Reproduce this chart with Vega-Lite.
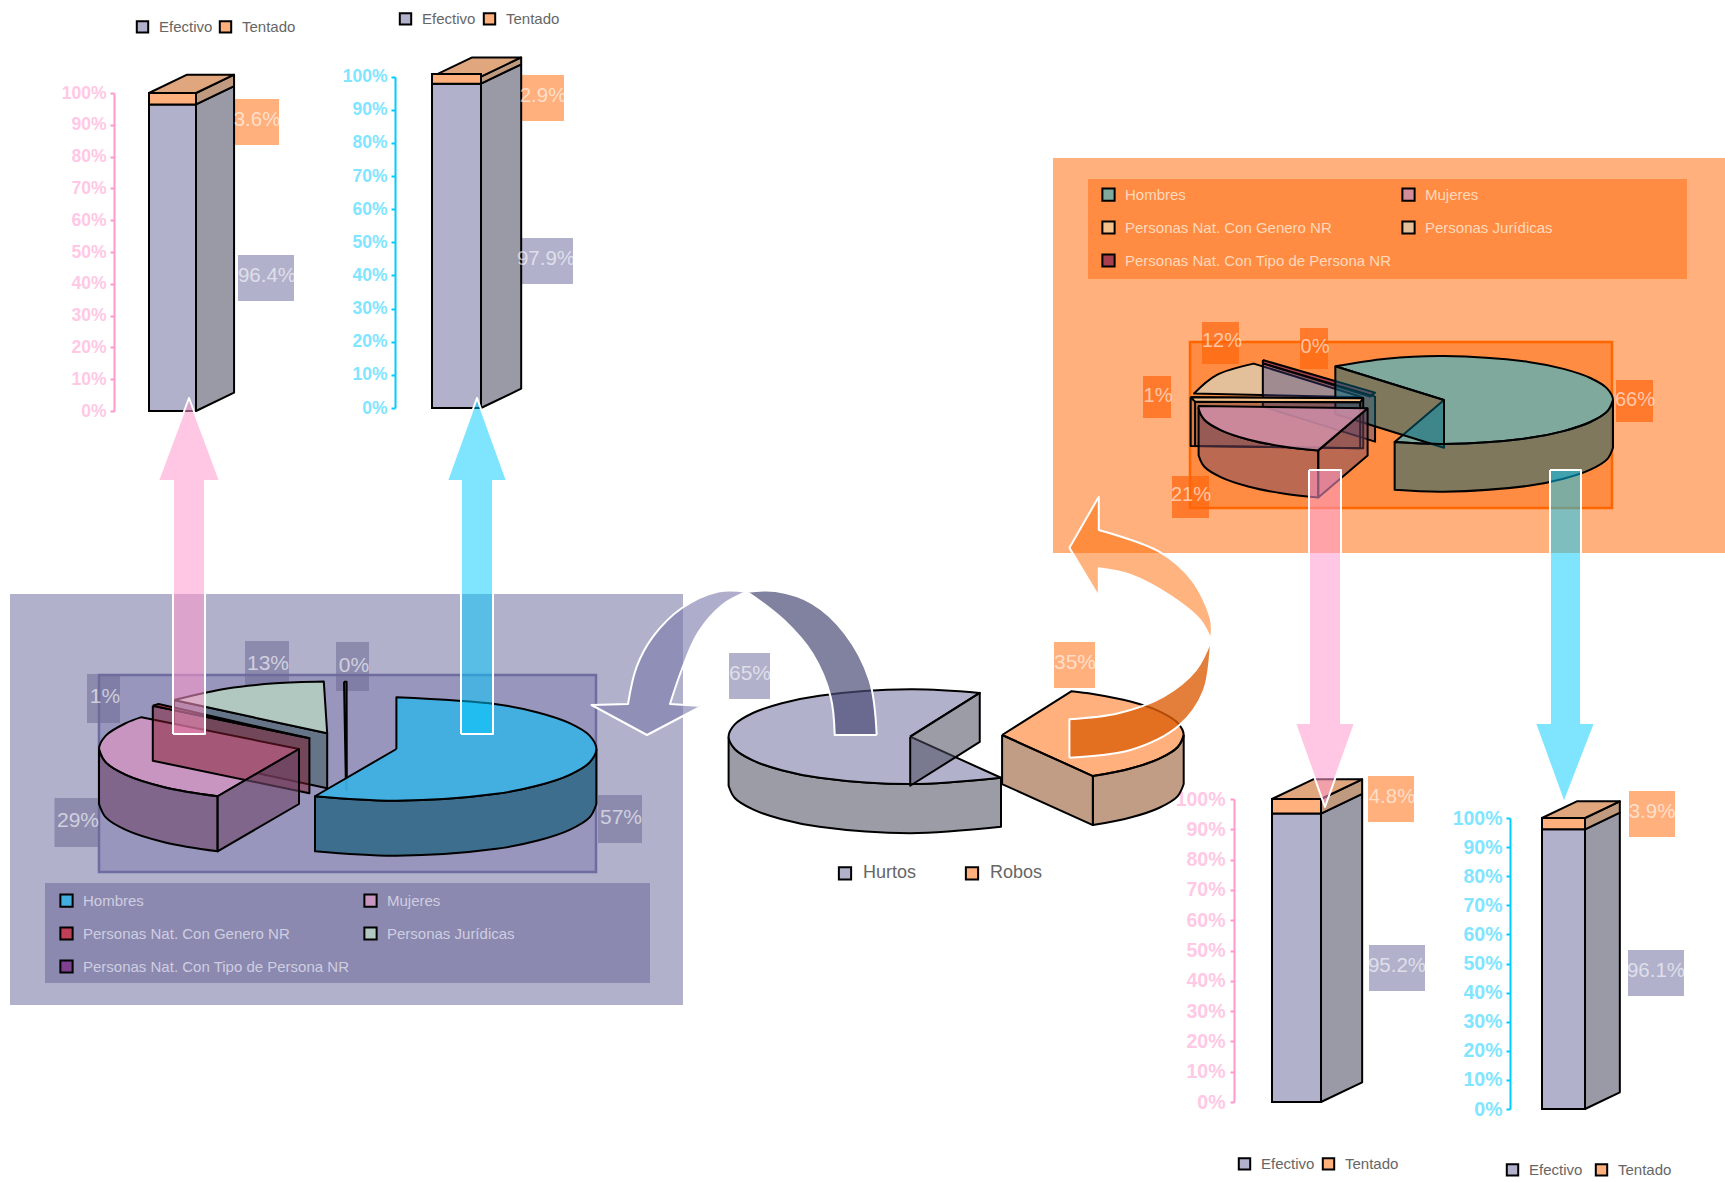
{
"$schema":"https://vega.github.io/schema/vega-lite/v6.json",
"width":1725,"height":1182,"padding":0,"autosize":{"type":"none"},"background":"#ffffff",
"config":{"view":{"stroke":null},"legend":{"labelFont":"Liberation Sans","titleFont":"Liberation Sans"},"axis":{"labelFont":"Liberation Sans"}},
"datasets":{
"fondos":[
{"caja":"panelA","x":10,"x2":683,"y":594,"y2":1005},
{"caja":"panelC","x":1053,"x2":1725,"y":158,"y2":553}],
"areas":[
{"caja":"areaA","x":99,"x2":596,"y":675,"y2":872},
{"caja":"areaC","x":1190,"x2":1612,"y":342,"y2":508}],
"cajas":[
{"caja":"leyendaA","x":45,"x2":650,"y":883,"y2":983},
{"caja":"leyendaC","x":1088,"x2":1687,"y":179,"y2":279},
{"caja":"etqA","x":87,"x2":120,"y":674,"y2":723},
{"caja":"etqA","x":598,"x2":642,"y":795,"y2":843},
{"caja":"etqA","x":54.5,"x2":99,"y":798,"y2":847},
{"caja":"etqA","x":245,"x2":289,"y":641,"y2":690},
{"caja":"etqA","x":336,"x2":369,"y":642,"y2":691},
{"caja":"etqC","x":1616,"x2":1653,"y":380,"y2":422},
{"caja":"etqC","x":1143,"x2":1171,"y":376,"y2":418},
{"caja":"etqC","x":1202,"x2":1239,"y":322,"y2":364},
{"caja":"etqC","x":1300,"x2":1328,"y":328,"y2":369},
{"caja":"etqC","x":1172,"x2":1209,"y":476,"y2":518},
{"caja":"etqE","x":729,"x2":770,"y":653,"y2":699},
{"caja":"etqT","x":1054,"x2":1095,"y":642,"y2":688},
{"caja":"etqT","x":233,"x2":279,"y":99,"y2":145},
{"caja":"etqE","x":238,"x2":294,"y":255,"y2":301},
{"caja":"etqT","x":518,"x2":564,"y":75,"y2":121},
{"caja":"etqE","x":517,"x2":573,"y":238,"y2":284},
{"caja":"etqT","x":1368,"x2":1414,"y":776,"y2":822},
{"caja":"etqE","x":1369,"x2":1425,"y":945,"y2":991},
{"caja":"etqT","x":1629,"x2":1675,"y":791,"y2":837},
{"caja":"etqE","x":1628,"x2":1684,"y":950,"y2":996}],
"textos":[
{"texto":"1%","grupo":"A","x":105,"y":697},
{"texto":"57%","grupo":"A","x":621,"y":818},
{"texto":"29%","grupo":"A","x":78,"y":821},
{"texto":"13%","grupo":"A","x":268,"y":664},
{"texto":"0%","grupo":"A","x":354,"y":666},
{"texto":"66%","grupo":"C","x":1635,"y":400},
{"texto":"1%","grupo":"C","x":1158,"y":396},
{"texto":"12%","grupo":"C","x":1222,"y":341},
{"texto":"0%","grupo":"C","x":1315,"y":347},
{"texto":"21%","grupo":"C","x":1191,"y":495},
{"texto":"65%","grupo":"A","x":750,"y":674},
{"texto":"35%","grupo":"A","x":1075,"y":663},
{"texto":"3.6%","grupo":"B","x":257,"y":120},
{"texto":"96.4%","grupo":"B","x":267,"y":276},
{"texto":"2.9%","grupo":"B","x":543,"y":96},
{"texto":"97.9%","grupo":"B","x":546,"y":259},
{"texto":"4.8%","grupo":"B","x":1392,"y":797},
{"texto":"95.2%","grupo":"B","x":1397,"y":966},
{"texto":"3.9%","grupo":"B","x":1652,"y":812},
{"texto":"96.1%","grupo":"B","x":1656,"y":971}],
"pieA":[
{"cara":"j1","parte":"corteJ","u":[-1.112,-1.112,-0.346,-0.346,-0.346,-0.346,-1.112,-1.112,-1.112,-1.112],"v":[0.947,0.947,0.304,0.304,-0.76,-0.76,-0.117,-0.117,0.947,0.947]},
{"cara":"j2","parte":"Personas Jurídicas","u":[-0.346,-0.346,-0.363,-0.363,-0.605,-0.846,-1.112,-1.112,-0.346,-0.346],"v":[0.304,0.304,1.304,1.304,1.27,1.17,0.947,0.947,0.304,0.304]},
{"cara":"t1","parte":"Personas Nat. Con Tipo de Persona NR","u":[-0.262,-0.262,-0.249,-0.249,-0.248,-0.248,-0.252,-0.252,-0.262,-0.262],"v":[1.302,1.302,1.302,1.302,-0.793,-0.793,-0.793,-0.793,1.302,1.302]},
{"cara":"m3","parte":"Mujeres","u":[-0.487,-0.487,-0.894,-0.894,-1.156,-1.353,-1.453,-1.487,-1.453,-1.353,-1.275,-1.275,-0.487,-0.487],"v":[0,0,-0.914,-0.914,-0.743,-0.5,-0.259,0,0.259,0.5,0.616,0.616,0,0]},
{"cara":"g1","parte":"corteG","u":[-1.218,-1.218,-0.435,-0.435,-0.435,-0.435,-1.218,-1.218,-1.218,-1.218],"v":[0.837,0.837,0.207,0.207,-0.857,-0.857,-0.227,-0.227,0.837,0.837]},
{"cara":"g2","parte":"Personas Nat. Con Genero NR","u":[-1.218,-1.218,-1.189,-1.189,-0.435,-0.435,-1.218,-1.218],"v":[0.837,0.837,0.87,0.87,0.207,0.207,0.837,0.837]},
{"cara":"m1","parte":"paredM","u":[-0.894,-0.894,-1.156,-1.353,-1.453,-1.487,-1.487,-1.487,-1.487,-1.453,-1.353,-1.156,-0.894,-0.894,-0.894,-0.894],"v":[-0.914,-0.914,-0.743,-0.5,-0.259,0,0,-1.064,-1.064,-1.323,-1.564,-1.807,-1.978,-1.978,-0.914,-0.914]},
{"cara":"m2","parte":"paredM","u":[-0.894,-0.894,-0.487,-0.487,-0.487,-0.487,-0.894,-0.894,-0.894,-0.894],"v":[-0.914,-0.914,0,0,-1.064,-1.064,-1.978,-1.978,-0.914,-0.914]},
{"cara":"h1","parte":"paredH","u":[1,1,0.966,0.866,0.707,0.5,0,-0.407,-0.407,-0.407,-0.407,0,0.5,0.707,0.866,0.966,1,1,1,1],"v":[0,0,-0.259,-0.5,-0.707,-0.866,-1,-0.914,-0.914,-1.978,-1.978,-2.064,-1.93,-1.771,-1.564,-1.323,-1.064,-1.064,0,0]},
{"cara":"h2","parte":"Hombres","u":[0,0,0,0,0.5,0.707,0.866,0.966,1,0.966,0.866,0.707,0.5,0,-0.407,-0.407,0,0],"v":[0,0,1,1,0.866,0.707,0.5,0.259,0,-0.259,-0.5,-0.707,-0.866,-1,-0.914,-0.914,0,0]}],
"pieB":[
{"cara":"e1","parte":"paredE","u":[-1,-1,-0.966,-0.866,-0.707,-0.5,0,0.5,0.5,0.5,0.5,0,-0.5,-0.707,-0.866,-0.966,-1,-1,-1,-1],"v":[0,0,-0.259,-0.5,-0.707,-0.866,-1,-0.866,-0.866,-1.901,-1.901,-2.035,-1.901,-1.742,-1.535,-1.294,-1.035,-1.035,0,0]},
{"cara":"e2","parte":"Hurtos","u":[0,0,0.383,0.383,0,-0.5,-0.707,-0.866,-0.966,-1,-0.966,-0.866,-0.707,-0.5,0,0.5,0.5,0,0],"v":[0,0,0.924,0.924,1,0.866,0.707,0.5,0.259,0,-0.259,-0.5,-0.707,-0.866,-1,-0.866,-0.866,0,0]},
{"cara":"e3","parte":"paredE","u":[0,0,0.383,0.383,0.383,0.383,0,0,0,0],"v":[0,0,0.924,0.924,-0.111,-0.111,-1.035,-1.035,0,0]},
{"cara":"r2","parte":"Robos","u":[0.506,0.506,0.889,0.889,1.006,1.213,1.372,1.472,1.506,1.472,1.372,1.213,1.006,1.006,0.506,0.506],"v":[0.036,0.036,0.96,0.96,0.902,0.743,0.536,0.295,0.036,-0.223,-0.464,-0.671,-0.83,-0.83,0.036,0.036]},
{"cara":"r1","parte":"paredR","u":[1.506,1.506,1.472,1.372,1.213,1.006,1.006,1.006,1.006,1.213,1.372,1.472,1.506,1.506,1.506,1.506],"v":[0.036,0.036,-0.223,-0.464,-0.671,-0.83,-0.83,-1.865,-1.865,-1.706,-1.499,-1.258,-0.999,-0.999,0.036,0.036]},
{"cara":"r3","parte":"paredR","u":[0.506,0.506,1.006,1.006,1.006,1.006,0.506,0.506,0.506,0.506],"v":[0.036,0.036,-0.83,-0.83,-1.865,-1.865,-0.999,-0.999,0.036,0.036]}],
"pieC":[
{"cara":"j2","parte":"Personas Jurídicas","u":[-0.483,-0.483,-1.126,-1.126,-1.349,-1.479,-1.479,-0.483,-0.483],"v":[0.061,0.061,0.827,0.827,0.561,0.148,0.148,0.061,0.061]},
{"cara":"t2","parte":"Personas Nat. Con Tipo de Persona NR","u":[-1.072,-1.072,-0.408,-0.408,-0.439,-0.439,-1.072,-1.072,-1.072,-1.072],"v":[0.909,0.909,0.167,0.167,0.076,0.076,0.833,0.833,0.909,0.909]},
{"cara":"t1","parte":"corteT","u":[-1.072,-1.072,-0.408,-0.408,-0.408,-0.408,-1.072,-1.072,-1.072,-1.072],"v":[0.833,0.833,0.076,0.076,-0.947,-0.947,-0.152,-0.152,0.833,0.833]},
{"cara":"h2","parte":"Hombres","u":[0,0,-0.643,-0.643,-0.342,0,0.5,0.707,0.866,0.966,1,0.966,0.866,0.707,0.5,0,-0.292,-0.292,0,0],"v":[0,0,0.766,0.766,0.94,1,0.866,0.707,0.5,0.259,0,-0.259,-0.5,-0.707,-0.866,-1,-0.956,-0.956,0,0]},
{"cara":"h3","parte":"paredH","u":[-0.643,-0.643,0,0,0,0,-0.643,-0.643,-0.643,-0.643],"v":[0.766,0.766,0,0,-1.084,-1.084,-0.318,-0.318,0.766,0.766]},
{"cara":"h1","parte":"paredH","u":[1,1,0.966,0.866,0.707,0.5,0,-0.292,-0.292,-0.292,-0.292,0,0.5,0.707,0.866,0.966,1,1,1,1],"v":[0,0,-0.259,-0.5,-0.707,-0.866,-1,-0.956,-0.956,-2.04,-2.04,-2.084,-1.95,-1.791,-1.584,-1.343,-1.084,-1.084,0,0]},
{"cara":"j1","parte":"corteJ","u":[-1.499,-1.499,-0.478,-0.478,-0.478,-0.478,-1.499,-1.499,-1.499,-1.499],"v":[0.061,0.061,0.038,0.038,-1.098,-1.098,-1.045,-1.045,0.061,0.061]},
{"cara":"g2","parte":"Personas Nat. Con Genero NR","u":[-1.499,-1.499,-0.478,-0.478,-0.496,-0.496,-1.473,-1.473,-1.499,-1.499],"v":[0.061,0.061,0.038,0.038,-0.053,-0.053,-0.038,-0.038,0.061,0.061]},
{"cara":"g1","parte":"corteJ","u":[-1.473,-1.473,-0.496,-0.496,-0.496,-0.496,-1.473,-1.473,-1.473,-1.473],"v":[-0.038,-0.038,-0.053,-0.053,-1.098,-1.098,-1.045,-1.045,-0.038,-0.038]},
{"cara":"m1","parte":"paredM","u":[-0.744,-0.744,-0.952,-1.159,-1.318,-1.418,-1.452,-1.452,-1.452,-1.452,-1.418,-1.318,-1.159,-0.952,-0.744,-0.744,-0.744,-0.744],"v":[-1.145,-1.145,-1.055,-0.896,-0.689,-0.448,-0.189,-0.189,-1.259,-1.259,-1.518,-1.759,-1.966,-2.125,-2.215,-2.215,-1.145,-1.145]},
{"cara":"m2","parte":"paredM","u":[-0.744,-0.744,-0.452,-0.452,-0.452,-0.452,-0.744,-0.744,-0.744,-0.744],"v":[-1.145,-1.145,-0.189,-0.189,-1.259,-1.259,-2.215,-2.215,-1.145,-1.145]},
{"cara":"m3","parte":"Mujeres","u":[-0.452,-0.452,-0.744,-0.744,-0.952,-1.159,-1.318,-1.418,-1.452,-1.451,-1.451,-0.452,-0.452],"v":[-0.189,-0.189,-1.145,-1.145,-1.055,-0.896,-0.689,-0.448,-0.189,-0.137,-0.137,-0.189,-0.189]}],
"barras":[
{"panel":"P1","tipo":"Efectivo","valor":96.4},{"panel":"P1","tipo":"Tentado","valor":3.6},
{"panel":"P2","tipo":"Efectivo","valor":97.9},{"panel":"P2","tipo":"Tentado","valor":2.9},
{"panel":"P3","tipo":"Efectivo","valor":95.2},{"panel":"P3","tipo":"Tentado","valor":4.8},
{"panel":"P4","tipo":"Efectivo","valor":96.1},{"panel":"P4","tipo":"Tentado","valor":3.9}],
"caras":[
{"panel":"P1","cara":"lateral Efectivo","u":[1,1.81,1.81,1,1],"pct":[0,5.75,102.15,96.4,0]},
{"panel":"P1","cara":"lateral Tentado","u":[1,1.81,1.81,1,1],"pct":[96.4,102.15,105.75,100,96.4]},
{"panel":"P1","cara":"superior","u":[0,0.81,1.81,1,0],"pct":[100,105.75,105.75,100,100]},
{"panel":"P2","cara":"lateral Efectivo","u":[1,1.82,1.82,1,1],"pct":[0,5.83,103.73,97.9,0]},
{"panel":"P2","cara":"lateral Tentado","u":[1,1.82,1.82,1,1],"pct":[97.9,103.73,105.83,100,97.9]},
{"panel":"P2","cara":"superior","u":[0,0.82,1.82,1,0],"pct":[100,105.83,105.83,100,100]},
{"panel":"P3","cara":"lateral Efectivo","u":[1,1.84,1.84,1,1],"pct":[0,6.5,101.7,95.2,0]},
{"panel":"P3","cara":"lateral Tentado","u":[1,1.84,1.84,1,1],"pct":[95.2,101.7,106.5,100,95.2]},
{"panel":"P3","cara":"superior","u":[0,0.84,1.84,1,0],"pct":[100,106.5,106.5,100,100]},
{"panel":"P4","cara":"lateral Efectivo","u":[1,1.81,1.81,1,1],"pct":[0,5.74,101.84,96.1,0]},
{"panel":"P4","cara":"lateral Tentado","u":[1,1.81,1.81,1,1],"pct":[96.1,101.84,105.74,100,96.1]},
{"panel":"P4","cara":"superior","u":[0,0.81,1.81,1,0],"pct":[100,105.74,105.74,100,100]}],
"flechas":[
{"flecha":"azulIzq","tono":"lila","x":[746.9,746.9,718.4,681.6,653,636.7,628,628,591.5,591.5,647,647,702,702,670,670,681.6,698,722.4,746.9,746.9],"y":[591.7,591.7,591.5,608.3,636.7,666.7,704,704,705,705,735,735,706,706,704,704,670,633,605,591.7,591.7]},
{"flecha":"azulDer","tono":"lilaOscuro","x":[876.7,876.7,869.4,844.9,812.2,775.5,746.9,746.9,783.7,812.2,830.6,834.7,834.7,876.7,876.7],"y":[735,735,680,633.3,603.3,591,591.7,591.7,620,653.3,696.7,735,735,735,735]},
{"flecha":"naranjaSup","tono":"naranja","x":[1211,1211,1211,1191.8,1159.2,1098.8,1098.8,1098.8,1098.8,1069.4,1069.4,1098.8,1098.8,1098.8,1098.8,1130.6,1171.4,1200,1211,1211],"y":[640,640,620,580,551.7,530,530,496.7,496.7,547.7,547.7,596.7,596.7,568.3,568.3,575,596.7,620,640,640]},
{"flecha":"naranjaInf","tono":"naranjaOscuro","x":[1069.4,1069.4,1130.6,1179.6,1204,1211,1211,1196,1163.3,1118.4,1069.4,1069.4,1069.4,1069.4],"y":[757.7,757.7,750,725,690,640,640,670,696.7,713.3,719.3,719.3,757.7,757.7]},
{"flecha":"rosaSube","tono":"rosa","x":[173,173,173,173,158,158,189,189,220,220,205,205,205,205,173,173],"y":[734,734,481,481,481,481,398,398,481,481,481,481,734,734,734,734]},
{"flecha":"cianSube","tono":"cian","x":[461,461,461,461,447,447,477,477,507,507,493,493,493,493,461,461],"y":[734,734,481,481,481,481,398,398,481,481,481,481,734,734,734,734]},
{"flecha":"rosaBaja","tono":"rosa","x":[1309,1309,1309,1309,1295,1295,1325,1325,1355,1355,1341,1341,1341,1341,1309,1309],"y":[470,470,723,723,723,723,807,807,723,723,723,723,470,470,470,470]},
{"flecha":"cianBaja","tono":"cian","x":[1550,1550,1550,1550,1535,1535,1564,1564,1595,1595,1581,1581,1581,1581,1550,1550],"y":[470,470,723,723,723,723,803,803,723,723,723,723,470,470,470,470]}]
},
"layer":[
{"data":{"name":"fondos"},"mark":{"type":"rect"},"encoding":{
"x":{"field":"x","type":"quantitative","axis":null,"scale":{"domain":[0,1725],"range":[0,1725]}},"x2":{"field":"x2"},
"y":{"field":"y","type":"quantitative","axis":null,"scale":{"domain":[0,1182],"range":[0,1182]}},"y2":{"field":"y2"},
"fill":{"field":"caja","type":"nominal","legend":null,"scale":{"domain":["panelA","panelC"],"range":["#b1b1cc","#ffb07c"]}}}},
{"data":{"name":"areas"},"mark":{"type":"rect","strokeWidth":2.5},"encoding":{
"x":{"field":"x","type":"quantitative","axis":null,"scale":{"domain":[0,1725],"range":[0,1725]}},"x2":{"field":"x2"},
"y":{"field":"y","type":"quantitative","axis":null,"scale":{"domain":[0,1182],"range":[0,1182]}},"y2":{"field":"y2"},
"fill":{"field":"caja","type":"nominal","legend":null,"scale":{"domain":["areaA","areaC"],"range":["#9896bc","#ff8c42"]}},
"stroke":{"field":"caja","type":"nominal","legend":null,"scale":{"domain":["areaA","areaC"],"range":["#6e6da0","#ff6600"]}}}},
{"data":{"name":"cajas"},"mark":{"type":"rect"},"encoding":{
"x":{"field":"x","type":"quantitative","axis":null,"scale":{"domain":[0,1725],"range":[0,1725]}},"x2":{"field":"x2"},
"y":{"field":"y","type":"quantitative","axis":null,"scale":{"domain":[0,1182],"range":[0,1182]}},"y2":{"field":"y2"},
"fill":{"field":"caja","type":"nominal","legend":null,"scale":{"domain":["leyendaA","leyendaC","etqA","etqC","etqE","etqT"],"range":["#8b89b0","#ff8c42","rgba(110,108,150,0.55)","rgba(255,100,10,0.7)","#b1b1cc","#ffb07c"]}}}},
{"data":{"name":"pieA"},"transform":[{"flatten":["u","v"]}],
"mark":{"type":"line","filled":true,"interpolate":"catmull-rom","stroke":"#000000","strokeWidth":2,"strokeJoin":"round"},
"encoding":{
"x":{"field":"u","type":"quantitative","axis":null,"scale":{"domain":[-1,1],"range":[196.4,596.4]}},
"y":{"field":"v","type":"quantitative","axis":null,"scale":{"domain":[-1,1],"range":[800.7,697.3]}},
"detail":{"field":"cara"},"order":{"value":null},
"fill":{"field":"parte","type":"nominal","scale":{"domain":["Hombres","Mujeres","Personas Nat. Con Genero NR","Personas Jurídicas","Personas Nat. Con Tipo de Persona NR","paredH","paredM","corteG","corteJ"],"range":["rgba(62,175,225,0.95)","#c894c0","#c04058","#b0c8c0","#7f4090","rgba(40,100,130,0.8)","rgba(110,70,105,0.6)","rgba(130,25,45,0.5)","rgba(60,90,90,0.55)"]},
"legend":{"values":["Hombres","Personas Nat. Con Genero NR","Personas Nat. Con Tipo de Persona NR","Mujeres","Personas Jurídicas"],"title":null,"orient":"none","legendX":59,"legendY":893,"columns":2,"columnPadding":10,"rowPadding":12,"padding":0,"zindex":1,"symbolType":"square","symbolSize":150,"symbolStrokeColor":"#000000","symbolStrokeWidth":2,"labelColor":"#cfcee0","labelFontSize":15,"labelLimit":400,"labelOffset":9}}}},
{"data":{"name":"pieB"},"transform":[{"flatten":["u","v"]}],
"mark":{"type":"line","filled":true,"interpolate":"catmull-rom","stroke":"#000000","strokeWidth":2,"strokeJoin":"round"},
"encoding":{
"x":{"field":"u","type":"quantitative","axis":null,"scale":{"domain":[-1,1],"range":[728.6,1091.8]}},
"y":{"field":"v","type":"quantitative","axis":null,"scale":{"domain":[-1,1],"range":[784.1,689.3]}},
"detail":{"field":"cara"},"order":{"value":null},
"fill":{"field":"parte","type":"nominal","scale":{"domain":["Hurtos","Robos","paredE","paredR"],"range":["#b1b1cc","#ffb07c","rgba(75,75,95,0.55)","rgba(130,60,10,0.5)"]},
"legend":{"values":["Hurtos","Robos"],"title":null,"orient":"none","legendX":836,"legendY":864,"columns":2,"columnPadding":44,"padding":0,"zindex":1,"symbolType":"square","symbolSize":150,"symbolStrokeColor":"#000000","symbolStrokeWidth":2,"labelColor":"#666666","labelFontSize":18,"labelOffset":9}}}},
{"data":{"name":"pieC"},"transform":[{"flatten":["u","v"]}],
"mark":{"type":"line","filled":true,"interpolate":"catmull-rom","stroke":"#000000","strokeWidth":2,"strokeJoin":"round"},
"encoding":{
"x":{"field":"u","type":"quantitative","axis":null,"scale":{"domain":[-1,1],"range":[1275,1613]}},
"y":{"field":"v","type":"quantitative","axis":null,"scale":{"domain":[-1,1],"range":[444,356]}},
"detail":{"field":"cara"},"order":{"value":null},
"fill":{"field":"parte","type":"nominal","scale":{"domain":["Hombres","Mujeres","Personas Nat. Con Genero NR","Personas Jurídicas","Personas Nat. Con Tipo de Persona NR","paredH","paredM","corteT","corteJ"],"range":["#7fa99c","rgba(205,140,165,0.88)","#f5c08a","#e3c09a","#a83f4e","rgba(0,100,120,0.5)","rgba(120,70,95,0.5)","rgba(60,60,130,0.4)","rgba(60,60,90,0.2)"]},
"legend":{"values":["Hombres","Personas Nat. Con Genero NR","Personas Nat. Con Tipo de Persona NR","Mujeres","Personas Jurídicas"],"title":null,"orient":"none","legendX":1101,"legendY":187,"columns":2,"columnPadding":6,"rowPadding":12,"padding":0,"zindex":1,"symbolType":"square","symbolSize":150,"symbolStrokeColor":"#000000","symbolStrokeWidth":2,"labelColor":"#ffd9bd","labelFontSize":15,"labelLimit":400,"labelOffset":9}}}},
{"data":{"name":"caras"},"transform":[{"filter":"datum.panel=='P1'"},{"flatten":["u","pct"]}],"mark":{"type":"line","filled":true,"stroke":"#000000","strokeWidth":2,"strokeJoin":"round"},
"encoding":{"x":{"field":"u","type":"quantitative","axis":null,"scale":{"domain":[0,1],"range":[149,196]}},
"y":{"field":"pct","type":"quantitative","axis":null,"scale":{"domain":[0,100],"range":[411,93]}},
"detail":{"field":"cara"},"order":{"value":null},
"fill":{"field":"cara","type":"nominal","legend":null,"scale":{"domain":["lateral Efectivo","lateral Tentado","superior"],"range":["#9a9aa6","#bf9a7e","#e0a77f"]}}}},
{"data":{"name":"barras"},"transform":[{"filter":"datum.panel=='P1'"}],"mark":{"type":"bar","stroke":"#000000","strokeWidth":2},
"encoding":{"x":{"field":"panel","type":"nominal","axis":null,"scale":{"range":[149,196],"paddingInner":0,"paddingOuter":0}},
"y":{"field":"valor","type":"quantitative","stack":"zero","scale":{"domain":[0,100],"range":[411,93]},
"axis":{"orient":"left","offset":-114,"title":null,"grid":false,"values":[0,10,20,30,40,50,60,70,80,90,100],"labelExpr":"datum.value + '%'","domainColor":"#ff99cc","domainWidth":2,"tickColor":"#ff99cc","tickWidth":2,"tickSize":4,"labelColor":"#ffc8e4","labelFontWeight":"bold","labelFontSize":17.5,"labelPadding":4}},
"order":{"field":"tipo"},
"fill":{"field":"tipo","type":"nominal","scale":{"domain":["Efectivo","Tentado"],"range":["#b1b1cc","#ffb07c"]},
"legend":{"title":null,"orient":"none","legendX":135,"legendY":19,"columns":2,"columnPadding":2,"padding":0,"zindex":1,"symbolType":"square","symbolSize":130,"symbolStrokeColor":"#000000","symbolStrokeWidth":2,"labelColor":"#666666","labelFontSize":15,"labelOffset":9}}}},
{"data":{"name":"caras"},"transform":[{"filter":"datum.panel=='P2'"},{"flatten":["u","pct"]}],"mark":{"type":"line","filled":true,"stroke":"#000000","strokeWidth":2,"strokeJoin":"round"},
"encoding":{"x":{"field":"u","type":"quantitative","axis":null,"scale":{"domain":[0,1],"range":[432,481]}},
"y":{"field":"pct","type":"quantitative","axis":null,"scale":{"domain":[0,100],"range":[408,76.7]}},
"detail":{"field":"cara"},"order":{"value":null},
"fill":{"field":"cara","type":"nominal","legend":null,"scale":{"domain":["lateral Efectivo","lateral Tentado","superior"],"range":["#9a9aa6","#bf9a7e","#e0a77f"]}}}},
{"data":{"name":"barras"},"transform":[{"filter":"datum.panel=='P2'"}],"mark":{"type":"bar","stroke":"#000000","strokeWidth":2},
"encoding":{"x":{"field":"panel","type":"nominal","axis":null,"scale":{"range":[432,481],"paddingInner":0,"paddingOuter":0}},
"y":{"field":"valor","type":"quantitative","stack":"zero","scale":{"domain":[0,100],"range":[408,76.7]},
"axis":{"orient":"left","offset":-395,"title":null,"grid":false,"values":[0,10,20,30,40,50,60,70,80,90,100],"labelExpr":"datum.value + '%'","domainColor":"#00ccff","domainWidth":2,"tickColor":"#00ccff","tickWidth":2,"tickSize":4,"labelColor":"#80e5ff","labelFontWeight":"bold","labelFontSize":17.5,"labelPadding":4}},
"order":{"field":"tipo"},
"fill":{"field":"tipo","type":"nominal","scale":{"domain":["Efectivo","Tentado"],"range":["#b1b1cc","#ffb07c"]},
"legend":{"title":null,"orient":"none","legendX":398,"legendY":11,"columns":2,"columnPadding":3,"padding":0,"zindex":1,"symbolType":"square","symbolSize":130,"symbolStrokeColor":"#000000","symbolStrokeWidth":2,"labelColor":"#666666","labelFontSize":15,"labelOffset":9}}}},
{"data":{"name":"caras"},"transform":[{"filter":"datum.panel=='P3'"},{"flatten":["u","pct"]}],"mark":{"type":"line","filled":true,"stroke":"#000000","strokeWidth":2,"strokeJoin":"round"},
"encoding":{"x":{"field":"u","type":"quantitative","axis":null,"scale":{"domain":[0,1],"range":[1272,1321]}},
"y":{"field":"pct","type":"quantitative","axis":null,"scale":{"domain":[0,100],"range":[1102,799]}},
"detail":{"field":"cara"},"order":{"value":null},
"fill":{"field":"cara","type":"nominal","legend":null,"scale":{"domain":["lateral Efectivo","lateral Tentado","superior"],"range":["#9a9aa6","#bf9a7e","#e0a77f"]}}}},
{"data":{"name":"barras"},"transform":[{"filter":"datum.panel=='P3'"}],"mark":{"type":"bar","stroke":"#000000","strokeWidth":2},
"encoding":{"x":{"field":"panel","type":"nominal","axis":null,"scale":{"range":[1272,1321],"paddingInner":0,"paddingOuter":0}},
"y":{"field":"valor","type":"quantitative","stack":"zero","scale":{"domain":[0,100],"range":[1102,799]},
"axis":{"orient":"left","offset":-1234,"title":null,"grid":false,"values":[0,10,20,30,40,50,60,70,80,90,100],"labelExpr":"datum.value + '%'","domainColor":"#ff99cc","domainWidth":2,"tickColor":"#ff99cc","tickWidth":2,"tickSize":4,"labelColor":"#ffc8e4","labelFontWeight":"bold","labelFontSize":19.5,"labelPadding":5}},
"order":{"field":"tipo"},
"fill":{"field":"tipo","type":"nominal","scale":{"domain":["Efectivo","Tentado"],"range":["#b1b1cc","#ffb07c"]},
"legend":{"title":null,"orient":"none","legendX":1237,"legendY":1156,"columns":2,"columnPadding":3,"padding":0,"zindex":1,"symbolType":"square","symbolSize":130,"symbolStrokeColor":"#000000","symbolStrokeWidth":2,"labelColor":"#666666","labelFontSize":15,"labelOffset":9}}}},
{"data":{"name":"caras"},"transform":[{"filter":"datum.panel=='P4'"},{"flatten":["u","pct"]}],"mark":{"type":"line","filled":true,"stroke":"#000000","strokeWidth":2,"strokeJoin":"round"},
"encoding":{"x":{"field":"u","type":"quantitative","axis":null,"scale":{"domain":[0,1],"range":[1542,1585]}},
"y":{"field":"pct","type":"quantitative","axis":null,"scale":{"domain":[0,100],"range":[1109,818]}},
"detail":{"field":"cara"},"order":{"value":null},
"fill":{"field":"cara","type":"nominal","legend":null,"scale":{"domain":["lateral Efectivo","lateral Tentado","superior"],"range":["#9a9aa6","#bf9a7e","#e0a77f"]}}}},
{"data":{"name":"barras"},"transform":[{"filter":"datum.panel=='P4'"}],"mark":{"type":"bar","stroke":"#000000","strokeWidth":2},
"encoding":{"x":{"field":"panel","type":"nominal","axis":null,"scale":{"range":[1542,1585],"paddingInner":0,"paddingOuter":0}},
"y":{"field":"valor","type":"quantitative","stack":"zero","scale":{"domain":[0,100],"range":[1109,818]},
"axis":{"orient":"left","offset":-1510,"title":null,"grid":false,"values":[0,10,20,30,40,50,60,70,80,90,100],"labelExpr":"datum.value + '%'","domainColor":"#00ccff","domainWidth":2,"tickColor":"#00ccff","tickWidth":2,"tickSize":4,"labelColor":"#80e5ff","labelFontWeight":"bold","labelFontSize":19.5,"labelPadding":4}},
"order":{"field":"tipo"},
"fill":{"field":"tipo","type":"nominal","scale":{"domain":["Efectivo","Tentado"],"range":["#b1b1cc","#ffb07c"]},
"legend":{"title":null,"orient":"none","legendX":1505,"legendY":1162,"columns":2,"columnPadding":8,"padding":0,"zindex":1,"symbolType":"square","symbolSize":130,"symbolStrokeColor":"#000000","symbolStrokeWidth":2,"labelColor":"#666666","labelFontSize":15,"labelOffset":9}}}},
{"data":{"name":"flechas"},"transform":[{"flatten":["x","y"]}],
"mark":{"type":"line","filled":true,"interpolate":"catmull-rom","stroke":"#ffffff","strokeWidth":2,"strokeJoin":"round"},
"encoding":{
"x":{"field":"x","type":"quantitative","axis":null,"scale":{"domain":[0,1725],"range":[0,1725]}},
"y":{"field":"y","type":"quantitative","axis":null,"scale":{"domain":[0,1182],"range":[0,1182]}},
"detail":{"field":"flecha"},"order":{"value":null},
"fill":{"field":"tono","type":"nominal","legend":null,"scale":{"domain":["lila","lilaOscuro","naranja","naranjaOscuro","rosa","cian"],"range":["rgba(120,120,170,0.6)","rgba(75,75,120,0.7)","rgba(255,110,10,0.52)","rgba(220,95,10,0.8)","rgba(255,153,204,0.55)","rgba(0,204,255,0.5)"]}}}},
{"data":{"name":"textos"},"mark":{"type":"text","font":"Liberation Sans","align":"center","baseline":"middle","fill":"rgba(255,255,255,0.6)"},
"encoding":{
"x":{"field":"x","type":"quantitative","axis":null,"scale":{"domain":[0,1725],"range":[0,1725]}},
"y":{"field":"y","type":"quantitative","axis":null,"scale":{"domain":[0,1182],"range":[0,1182]}},
"text":{"field":"texto"},
"size":{"field":"grupo","type":"ordinal","legend":null,"scale":{"domain":["A","B","C"],"range":[21,20,18]}}}}
],
"resolve":{"scale":{"x":"independent","y":"independent","fill":"independent","stroke":"independent","size":"independent"},"axis":{"x":"independent","y":"independent"},"legend":{"fill":"independent"}}
}
